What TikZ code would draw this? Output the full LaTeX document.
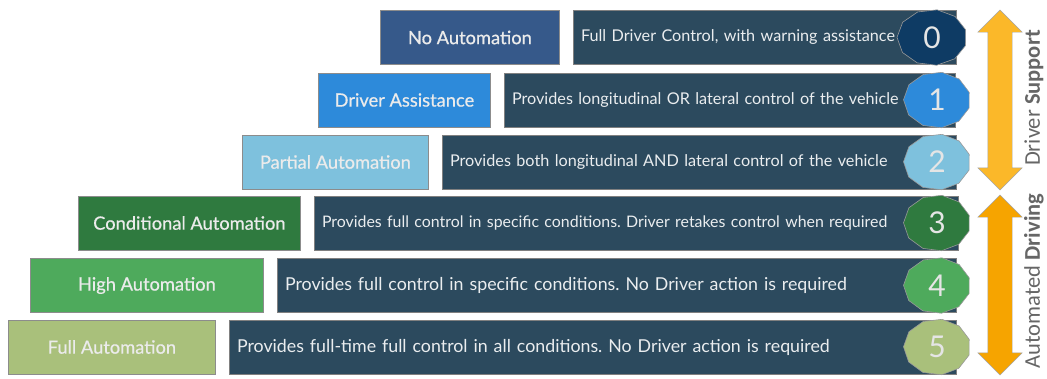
\documentclass[tikz,border=0pt]{standalone}
\usepackage{fontspec}
\setmainfont{Lato}
\newfontfamily\lvlfont[FakeBold=0.6]{Lato}
\newfontfamily\sidefont{Carlito}
\usetikzlibrary{positioning,shapes.arrows}
\definecolor{descbg}{HTML}{2C4A5E}
\definecolor{lvl0}{HTML}{36598A}
\definecolor{lvl1}{HTML}{2D8ADA}
\definecolor{lvl2}{HTML}{7EC1DD}
\definecolor{lvl3}{HTML}{2F7A3F}
\definecolor{lvl4}{HTML}{4EAA5C}
\definecolor{lvl5}{HTML}{A9C07B}
\definecolor{num0}{HTML}{0E3B64}
\definecolor{support}{HTML}{FBB829}
\definecolor{driving}{HTML}{F6A400}
\begin{document}
\frenchspacing
\begin{tikzpicture}[x=1pt,y=1pt]
\tikzstyle{lvl}=[rectangle,draw=black!45,line width=0.8pt,minimum height=54pt,anchor=west,text=white!92!black,font=\lvlfont\fontsize{18.3}{20}\selectfont]
\tikzstyle{desc}=[rectangle,draw=black!50,fill=descbg,minimum height=54pt,inner xsep=8pt,align=left,text=white!90!descbg,font=\fontsize{16.2}{18}\selectfont]
\tikzstyle{oct}=[draw=black!40,line width=0.6pt]
\tikzstyle{num}=[text=white!90!black,font=\fontsize{30}{30}\selectfont]
\tikzstyle{band}=[double arrow,rotate=90,minimum height=180pt,inner sep=0pt,inner ysep=12pt,double arrow head extend=10pt,draw=black!35]
\tikzstyle{side}=[rotate=90,text=black!60,font=\sidefont\fontsize{22.5}{24}\selectfont]
\useasboundingbox (0,0) rectangle (1047,-378);

% levels of automation
\node[lvl,fill=lvl0,minimum width=179pt] (l0) at (380,-37.5) {No Automation};
\node[lvl,fill=lvl1,minimum width=172pt] (l1) at (318,-100) {Driver Assistance};
\node[lvl,fill=lvl2,minimum width=186pt] (l2) at (242,-162) {Partial Automation};
\node[lvl,fill=lvl3,minimum width=222pt] (l3) at (78,-223) {Conditional Automation};
\node[lvl,fill=lvl4,minimum width=233pt] (l4) at (30,-285.5) {High Automation};
\node[lvl,fill=lvl5,minimum width=207pt] (l5) at (8,-347) {Full Automation};

\node[desc,right=13pt of l0,text width=367pt] (d0) {Full Driver Control, with warning assistance};
\node[desc,right=13pt of l1,text width=435pt] (d1) {Provides longitudinal OR lateral control of the vehicle};
\node[desc,right=13pt of l2,text width=498pt] (d2) {Provides both longitudinal AND lateral control of the vehicle};
\node[desc,right=13pt of l3,text width=628pt,font=\fontsize{15.9}{18}\selectfont] (d3) {Provides full control in specific conditions. Driver retakes control when required};
\node[desc,right=13pt of l4,text width=663pt,font=\fontsize{17.8}{19}\selectfont] (d4) {Provides full control in specific conditions. No Driver action is required};
\node[desc,right=13pt of l5,text width=711pt,font=\fontsize{17.8}{19}\selectfont] (d5) {Provides full-time full control in all conditions. No Driver action is required};

% numbers
\draw[oct,fill=num0] plot[domain=16:376,samples=12] ({932+35*cos(\x)},{-37.5+28*sin(\x)});
\draw[oct,fill=lvl1] plot[domain=16:376,samples=12] ({937+33.5*cos(\x)},{-100+28*sin(\x)});
\draw[oct,fill=lvl2] plot[domain=16:376,samples=12] ({937+33.5*cos(\x)},{-162+28*sin(\x)});
\draw[oct,fill=lvl3] plot[domain=16:376,samples=12] ({937+33.5*cos(\x)},{-223+28*sin(\x)});
\draw[oct,fill=lvl4] plot[domain=16:376,samples=12] ({937+33.5*cos(\x)},{-285.5+28*sin(\x)});
\draw[oct,fill=lvl5] plot[domain=16:376,samples=12] ({937+33.5*cos(\x)},{-347+28*sin(\x)});
\node[num] (n0) at (932,-37.5) {0};
\node[num] (n1) at (937,-100) {1};
\node[num] (n2) at (937,-162) {2};
\node[num] (n3) at (937,-223) {3};
\node[num] (n4) at (937,-285.5) {4};
\node[num] (n5) at (937,-347) {5};

% groups
\node[band,fill=support] (a0) at (1000,-100) {};
\node[band,fill=driving] (a1) at (1000,-285) {};
\node[side] (s0) at (1034,-98) {Driver \textbf{Support}};
\node[side] (s1) at (1034,-281) {Automated \textbf{Driving}};
\end{tikzpicture}
\end{document}
